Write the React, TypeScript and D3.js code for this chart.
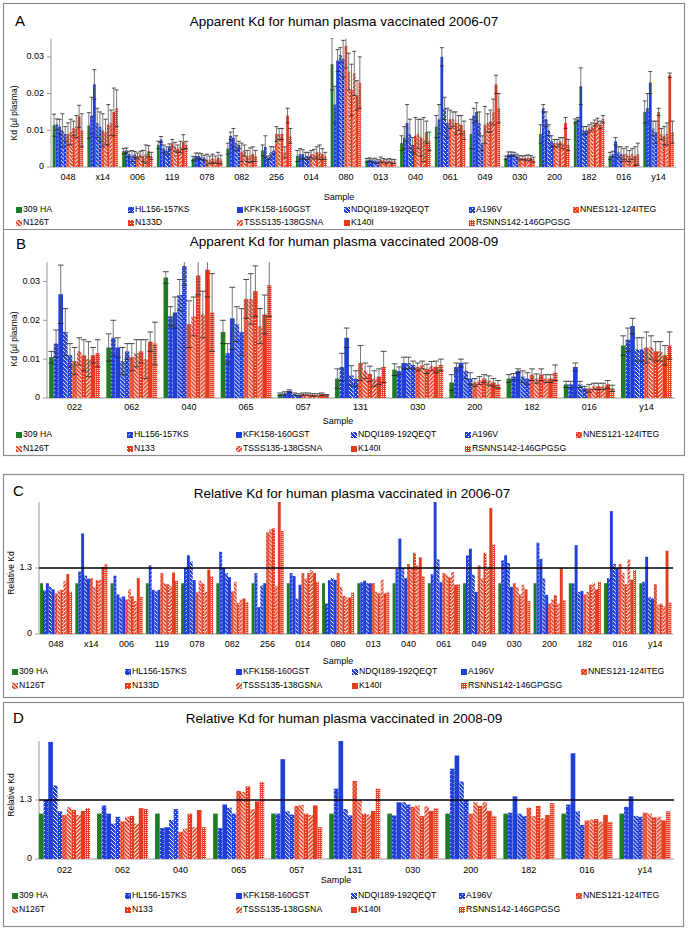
import React from "react";
import * as d3 from "d3";

const series0607 = ["309 HA","HL156-157KS","KFK158-160GST","NDQI189-192QEQT","A196V","NNES121-124ITEG","N126T","N133D","TSSS135-138GSNA","K140I","RSNNS142-146GPGSG"];
const series0809 = ["309 HA","HL156-157KS","KFK158-160GST","NDQI189-192QEQT","A196V","NNES121-124ITEG","N126T","N133","TSSS135-138GSNA","K140I","RSNNS142-146GPGSG"];

const samples0607 = ["048","x14","006","119","078","082","256","014","080","013","040","061","049","030","200","182","016","y14"];
const samples0809 = ["022","062","040","065","057","131","030","200","182","016","y14"];

const kdA = [
[0.0114,0.0116,0.0110,0.0100,0.0090,0.0090,0.0095,0.0105,0.0110,0.0138,0.0100],
[0.0113,0.0140,0.0225,0.0120,0.0110,0.0100,0.0095,0.0115,0.0120,0.0150,0.0160],
[0.0043,0.0045,0.0035,0.0030,0.0034,0.0030,0.0035,0.0030,0.0035,0.0043,0.0030],
[0.0060,0.0075,0.0050,0.0045,0.0055,0.0065,0.0055,0.0050,0.0055,0.0068,0.0060],
[0.0023,0.0030,0.0030,0.0028,0.0025,0.0020,0.0020,0.0023,0.0020,0.0025,0.0020],
[0.0050,0.0085,0.0080,0.0065,0.0060,0.0040,0.0045,0.0030,0.0032,0.0035,0.0030],
[0.0045,0.0055,0.0025,0.0040,0.0045,0.0090,0.0090,0.0090,0.0040,0.0140,0.0085],
[0.0030,0.0035,0.0035,0.0030,0.0030,0.0035,0.0035,0.0040,0.0040,0.0035,0.0030],
[0.0280,0.0170,0.0290,0.0305,0.0295,0.0330,0.0260,0.0210,0.0255,0.0195,0.0230],
[0.0018,0.0020,0.0018,0.0018,0.0015,0.0020,0.0018,0.0015,0.0018,0.0015,0.0015],
[0.0065,0.0080,0.0120,0.0090,0.0060,0.0085,0.0090,0.0080,0.0075,0.0095,0.0070],
[0.0110,0.0130,0.0300,0.0160,0.0120,0.0130,0.0130,0.0120,0.0120,0.0115,0.0100],
[0.0090,0.0140,0.0150,0.0120,0.0065,0.0115,0.0120,0.0125,0.0150,0.0225,0.0160],
[0.0025,0.0035,0.0035,0.0035,0.0030,0.0025,0.0025,0.0025,0.0025,0.0025,0.0020],
[0.0090,0.0160,0.0130,0.0100,0.0070,0.0065,0.0065,0.0070,0.0065,0.0120,0.0060],
[0.0125,0.0130,0.0220,0.0100,0.0100,0.0105,0.0110,0.0120,0.0125,0.0115,0.0130],
[0.0030,0.0035,0.0070,0.0040,0.0035,0.0035,0.0035,0.0030,0.0035,0.0030,0.0035],
[0.0150,0.0160,0.0230,0.0105,0.0095,0.0150,0.0090,0.0085,0.0090,0.0250,0.0095],
];

const errA = [
[0.0030,0.0015,0.0020,0.0045,0.0020,0.0030,0.0035,0.0020,0.0030,0.0030,0.0045],
[0.0035,0.0050,0.0040,0.0040,0.0040,0.0045,0.0035,0.0055,0.0035,0.0065,0.0050],
[0.0007,0.0007,0.0008,0.0015,0.0008,0.0008,0.0008,0.0015,0.0025,0.0015,0.0010],
[0.0010,0.0008,0.0010,0.0010,0.0008,0.0010,0.0012,0.0010,0.0015,0.0020,0.0010],
[0.0006,0.0008,0.0008,0.0008,0.0007,0.0015,0.0010,0.0012,0.0010,0.0015,0.0012],
[0.0015,0.0010,0.0025,0.0020,0.0010,0.0025,0.0015,0.0015,0.0020,0.0020,0.0015],
[0.0015,0.0030,0.0005,0.0015,0.0010,0.0020,0.0015,0.0015,0.0015,0.0020,0.0020],
[0.0015,0.0015,0.0012,0.0010,0.0010,0.0010,0.0013,0.0015,0.0020,0.0015,0.0010],
[0.0070,0.0050,0.0030,0.0020,0.0050,0.0060,0.0050,0.0070,0.0060,0.0040,0.0070],
[0.0005,0.0005,0.0004,0.0006,0.0005,0.0007,0.0005,0.0005,0.0005,0.0006,0.0005],
[0.0020,0.0030,0.0050,0.0040,0.0020,0.0050,0.0040,0.0050,0.0060,0.0030,0.0025],
[0.0030,0.0040,0.0025,0.0030,0.0040,0.0025,0.0020,0.0030,0.0020,0.0025,0.0025],
[0.0040,0.0020,0.0025,0.0030,0.0020,0.0050,0.0025,0.0030,0.0035,0.0025,0.0040],
[0.0005,0.0006,0.0006,0.0005,0.0005,0.0006,0.0005,0.0006,0.0008,0.0006,0.0007],
[0.0025,0.0010,0.0020,0.0015,0.0015,0.0010,0.0010,0.0010,0.0015,0.0015,0.0015],
[0.0006,0.0005,0.0050,0.0010,0.0010,0.0010,0.0010,0.0008,0.0008,0.0010,0.0010],
[0.0010,0.0008,0.0010,0.0015,0.0020,0.0015,0.0020,0.0015,0.0015,0.0025,0.0030],
[0.0030,0.0040,0.0030,0.0020,0.0030,0.0010,0.0015,0.0025,0.0030,0.0006,0.0030],
];

const kdB = [
[0.0105,0.0140,0.0267,0.0170,0.0110,0.0095,0.0120,0.0110,0.0100,0.0110,0.0115],
[0.0130,0.0155,0.0130,0.0095,0.0120,0.0105,0.0115,0.0120,0.0100,0.0145,0.0140],
[0.0310,0.0210,0.0220,0.0265,0.0340,0.0190,0.0210,0.0315,0.0215,0.0330,0.0220],
[0.0170,0.0115,0.0205,0.0190,0.0170,0.0255,0.0255,0.0275,0.0185,0.0215,0.0290],
[0.0010,0.0012,0.0018,0.0010,0.0008,0.0010,0.0010,0.0008,0.0008,0.0010,0.0007],
[0.0050,0.0080,0.0155,0.0058,0.0050,0.0090,0.0070,0.0062,0.0050,0.0055,0.0080],
[0.0073,0.0070,0.0090,0.0090,0.0085,0.0080,0.0085,0.0075,0.0082,0.0080,0.0085],
[0.0040,0.0080,0.0090,0.0070,0.0050,0.0040,0.0045,0.0050,0.0045,0.0040,0.0035],
[0.0050,0.0055,0.0070,0.0055,0.0050,0.0060,0.0050,0.0060,0.0050,0.0050,0.0065],
[0.0035,0.0035,0.0080,0.0035,0.0025,0.0025,0.0030,0.0030,0.0030,0.0035,0.0025],
[0.0135,0.0150,0.0185,0.0125,0.0125,0.0130,0.0130,0.0120,0.0120,0.0110,0.0135],
];

const errB = [
[0.0015,0.0035,0.0075,0.0060,0.0030,0.0035,0.0035,0.0040,0.0045,0.0020,0.0035],
[0.0035,0.0045,0.0025,0.0035,0.0020,0.0035,0.0035,0.0030,0.0050,0.0025,0.0055],
[0.0015,0.0025,0.0040,0.0040,0.0050,0.0060,0.0050,0.0050,0.0060,0.0070,0.0100],
[0.0030,0.0025,0.0080,0.0045,0.0060,0.0050,0.0065,0.0065,0.0045,0.0050,0.0080],
[0.0003,0.0004,0.0003,0.0003,0.0003,0.0003,0.0003,0.0003,0.0003,0.0003,0.0002],
[0.0025,0.0035,0.0025,0.0025,0.0020,0.0045,0.0020,0.0020,0.0020,0.0020,0.0040],
[0.0015,0.0010,0.0015,0.0015,0.0010,0.0010,0.0010,0.0012,0.0012,0.0015,0.0015],
[0.0020,0.0010,0.0010,0.0020,0.0015,0.0010,0.0010,0.0010,0.0012,0.0010,0.0010],
[0.0010,0.0008,0.0005,0.0015,0.0015,0.0015,0.0012,0.0015,0.0010,0.0010,0.0020],
[0.0008,0.0008,0.0010,0.0008,0.0005,0.0010,0.0008,0.0008,0.0008,0.0010,0.0008],
[0.0025,0.0030,0.0020,0.0030,0.0030,0.0040,0.0030,0.0025,0.0025,0.0025,0.0035],
];

const relC = [
[1.0,0.86,1.0,0.93,0.88,0.8,0.86,0.87,1.04,1.18,0.83],
[1.0,1.23,1.98,1.15,1.09,1.1,0.93,1.06,1.07,1.32,1.38],
[1.0,1.15,0.78,0.72,0.74,0.68,0.88,0.74,0.65,1.1,0.73],
[1.0,1.35,0.87,0.84,0.87,1.2,1.0,0.98,0.95,1.21,1.05],
[1.0,1.3,1.55,1.43,1.06,0.82,1.05,1.0,0.83,1.27,1.13],
[1.0,1.62,1.3,1.2,1.12,0.84,1.03,0.61,0.68,0.7,0.63],
[1.0,1.2,0.53,0.96,1.0,2.0,2.06,2.08,0.95,2.6,2.03],
[1.0,1.2,1.14,0.7,0.97,1.2,1.1,1.2,1.26,1.2,1.03],
[1.0,0.6,1.06,1.1,1.07,1.2,0.93,0.75,0.72,0.72,0.82],
[1.0,1.02,1.05,1.0,1.0,1.0,0.83,0.8,1.07,0.8,0.83],
[1.0,1.28,1.88,1.3,1.1,1.38,1.32,1.6,1.35,1.51,1.14],
[1.0,1.18,2.6,1.47,1.02,1.2,1.17,1.12,1.22,0.97,0.98],
[1.0,1.55,1.68,1.17,0.83,1.35,1.1,1.6,1.32,2.48,1.76],
[1.0,1.45,1.55,1.4,0.93,1.0,0.92,0.78,0.97,0.88,0.65],
[1.0,1.8,1.48,1.1,0.77,0.6,0.68,0.77,0.6,1.3,0.67],
[1.0,1.0,1.75,0.83,0.85,0.78,0.83,0.97,1.0,0.88,1.03],
[1.0,1.1,2.42,1.38,1.3,1.38,1.2,0.98,1.47,1.07,1.26],
[1.0,1.03,1.52,0.73,0.7,0.98,0.58,0.6,0.55,1.64,0.62],
];

const relD = [
[1.0,1.3,2.58,1.62,1.05,0.97,1.14,1.08,0.97,1.06,1.12],
[1.0,1.18,1.0,0.78,0.93,0.83,0.93,0.95,0.78,1.12,1.1],
[1.0,0.68,0.7,0.86,1.1,0.6,0.67,1.0,0.7,1.08,0.7],
[1.0,0.68,1.2,1.13,1.0,1.5,1.48,1.6,1.1,1.27,1.7],
[1.0,1.0,2.2,1.05,0.98,1.17,1.19,1.0,0.97,1.18,0.7],
[1.0,1.55,2.62,1.1,0.96,1.72,1.3,1.0,0.98,1.06,1.55],
[1.0,0.96,1.25,1.25,1.2,1.15,1.18,0.95,1.16,1.06,1.12],
[1.0,1.99,2.28,1.71,1.3,1.0,1.25,1.17,1.25,1.06,0.95],
[1.0,1.02,1.38,1.0,0.95,1.13,0.95,1.17,0.9,0.97,1.23],
[1.0,1.2,2.33,1.05,0.75,0.85,0.87,0.88,0.82,0.97,0.82],
[1.0,1.15,1.38,0.95,0.93,1.02,1.0,0.92,0.93,0.85,1.05],
];

const ticksKd = [0, 0.01, 0.02, 0.03];
const ticksRel = [0, 1.3];

const GREEN = "#1e7d24";
const BLUE = "#1f3fd8";
const RED = "#e53b1f";
const FONT = "'Liberation Sans', Arial, sans-serif";

const fillsPatterned = [GREEN, "url(#pHL)", BLUE, "url(#pNDQI)", "url(#pA196)", "url(#pNNES)", "url(#pN126)", "url(#pN133)", "url(#pTSSS)", RED, "url(#pRSN)"];
const fillsC = [GREEN, "url(#pHL)", BLUE, "url(#pNDQI)", BLUE, "url(#pNNES)", "url(#pN126)", "url(#pN133)", "url(#pTSSS)", RED, "url(#pRSN)"];

function Patterns() {
  return (
    <defs>
      <pattern id="pHL" patternUnits="userSpaceOnUse" width="4" height="4">
        <rect width="4" height="4" fill={BLUE} />
        <path d="M0.5,3.5 L2,2" stroke="#fff" strokeWidth="0.9" />
      </pattern>
      <pattern id="pNDQI" patternUnits="userSpaceOnUse" width="4" height="4">
        <rect width="4" height="4" fill={BLUE} />
        <path d="M-1,-1 L5,5 M3,-1 L5,1 M-1,3 L1,5" stroke="#fff" strokeWidth="1" />
      </pattern>
      <pattern id="pA196" patternUnits="userSpaceOnUse" width="4" height="4">
        <rect width="4" height="4" fill={BLUE} />
        <rect x="0" y="0" width="1" height="1" fill="#fff" />
        <rect x="2" y="2" width="1" height="1" fill="#fff" />
      </pattern>
      <pattern id="pNNES" patternUnits="userSpaceOnUse" width="4" height="4">
        <rect width="4" height="4" fill={RED} />
        <path d="M0.5,1 L2,1 M2.5,3 L4,3" stroke="#fff" strokeWidth="0.8" />
      </pattern>
      <pattern id="pN126" patternUnits="userSpaceOnUse" width="4" height="4">
        <rect width="4" height="4" fill={RED} />
        <path d="M-1,-1 L5,5 M3,-1 L5,1 M-1,3 L1,5" stroke="#fff" strokeWidth="1.1" />
      </pattern>
      <pattern id="pN133" patternUnits="userSpaceOnUse" width="3" height="3">
        <rect width="3" height="3" fill={RED} />
        <rect x="1" y="1" width="1" height="1" fill="#fff" />
      </pattern>
      <pattern id="pTSSS" patternUnits="userSpaceOnUse" width="4" height="4">
        <rect width="4" height="4" fill={RED} />
        <path d="M-1,5 L5,-1 M-1,1 L1,-1 M3,5 L5,3" stroke="#fff" strokeWidth="1.1" />
      </pattern>
      <pattern id="pRSN" patternUnits="userSpaceOnUse" width="2" height="2">
        <rect width="2" height="2" fill={RED} />
        <rect x="0" y="0" width="1" height="1" fill="#fff" />
      </pattern>
    </defs>
  );
}

type PanelCfg = {
  id: string;
  letter: string;
  letterPos: [number, number];
  title: string;
  titleX: number;
  titleY: number;
  samples: string[];
  series: string[];
  values: number[][];
  errors?: number[][];
  fills: string[];
  xRange: [number, number];
  pad: number;
  axisX: number;
  yBase: number;
  yTop: number;
  yMax: number;
  ticks: number[];
  tickFmt: (d: number) => string;
  yLabel: string;
  yLabelPos: [number, number];
  xLabelY: number;
  samplePos: [number, number];
  legendY: [number, number];
  legendX: number[];
  refLine?: number;
};

function Panel({ c }: { c: PanelCfg }) {
  const xg = d3.scaleBand<string>().domain(c.samples).range(c.xRange).paddingInner(c.pad).paddingOuter(c.pad / 2);
  const xs = d3.scaleBand<number>().domain(d3.range(c.series.length)).range([0, xg.bandwidth()]);
  const y = d3.scaleLinear().domain([0, c.yMax]).range([c.yBase, c.yTop]);
  const bw = xs.bandwidth();
  const right = c.xRange[1];
  const clip = `clip-${c.id}`;
  return (
    <g fontFamily={FONT}>
      <clipPath id={clip}>
        <rect x={c.axisX} y={c.yTop} width={right - c.axisX + 2} height={c.yBase - c.yTop} />
      </clipPath>
      <text x={c.letterPos[0]} y={c.letterPos[1]} fontSize={15} dominantBaseline="middle">{c.letter}</text>
      <text x={c.titleX} y={c.titleY} fontSize={13.5} textAnchor="middle" dominantBaseline="middle">{c.title}</text>
      <line x1={c.axisX} x2={c.axisX} y1={c.yTop} y2={c.yBase} stroke="#9a9a9a" strokeWidth={1} />
      <line x1={c.axisX} x2={right} y1={c.yBase} y2={c.yBase} stroke="#9a9a9a" strokeWidth={1} />
      {c.ticks.map((t) => (
        <g key={t}>
          <line x1={c.axisX - 4} x2={c.axisX} y1={y(t)} y2={y(t)} stroke="#9a9a9a" />
          <text x={c.axisX - 7} y={y(t)} fontSize={9} textAnchor="end" dominantBaseline="middle">{c.tickFmt(t)}</text>
        </g>
      ))}
      <text transform={`translate(${c.yLabelPos[0]},${c.yLabelPos[1]}) rotate(-90)`} fontSize={8.5} textAnchor="middle" dominantBaseline="middle">{c.yLabel}</text>
      <g clipPath={`url(#${clip})`}>
        {c.samples.map((s, gi) => (
          <g key={s} transform={`translate(${xg(s)},0)`}>
            {c.values[gi].map((v, si) => (
              <rect key={si} x={xs(si)} y={y(v)} width={bw} height={c.yBase - y(v)} fill={c.fills[si]} />
            ))}
            {c.errors && c.values[gi].map((v, si) => {
              const e = c.errors![gi][si];
              const cx = (xs(si) as number) + bw / 2;
              const hw = Math.max(1.8, bw / 2 + 0.6);
              return (
                <g key={"e" + si} stroke="#222" strokeWidth={0.8}>
                  <line x1={cx} x2={cx} y1={y(v - e)} y2={y(v + e)} stroke="#555" />
                  <line x1={cx - hw} x2={cx + hw} y1={y(v + e)} y2={y(v + e)} />
                  <line x1={cx - hw} x2={cx + hw} y1={y(v - e)} y2={y(v - e)} />
                </g>
              );
            })}
          </g>
        ))}
      </g>
      {c.refLine !== undefined && (
        <line x1={c.axisX} x2={right} y1={y(c.refLine)} y2={y(c.refLine)} stroke="#000" strokeWidth={1.6} />
      )}
      {c.samples.map((s) => (
        <text key={s} x={(xg(s) as number) + xg.bandwidth() / 2} y={c.xLabelY} fontSize={9} textAnchor="middle" dominantBaseline="middle">{s}</text>
      ))}
      <text x={c.samplePos[0]} y={c.samplePos[1]} fontSize={9} textAnchor="middle" dominantBaseline="middle">Sample</text>
      {c.series.map((name, si) => {
        const row = si < 6 ? 0 : 1;
        const col = si < 6 ? si : si - 6;
        const lx = c.legendX[col];
        const ly = c.legendY[row];
        return (
          <g key={name}>
            <rect x={lx} y={ly - 3} width={6} height={6} fill={c.fills[si]} />
            <text x={lx + 7} y={ly} fontSize={8.7} dominantBaseline="middle">{name}</text>
          </g>
        );
      })}
    </g>
  );
}

const fmtKd = (d: number) => (d === 0 ? "0" : d3.format(".2f")(d));
const fmtRel = (d: number) => (d === 0 ? "0" : String(d));

export default function App() {
  const panels: PanelCfg[] = [
    {
      id: "A", letter: "A", letterPos: [15, 22], title: "Apparent Kd for human plasma vaccinated 2006-07", titleX: 344, titleY: 22,
      samples: samples0607, series: series0607, values: kdA, errors: errA, fills: fillsPatterned,
      xRange: [50.6, 676], pad: 0.12, axisX: 51, yBase: 167, yTop: 38.5, yMax: 0.035, ticks: ticksKd, tickFmt: fmtKd,
      yLabel: "Kd (µl plasma)", yLabelPos: [15, 113], xLabelY: 178, samplePos: [339, 198], legendY: [210, 223],
      legendX: [16, 128, 237, 344, 469, 573],
    },
    {
      id: "B", letter: "B", letterPos: [16, 245], title: "Apparent Kd for human plasma vaccinated 2008-09", titleX: 344, titleY: 242,
      samples: samples0809, series: series0809, values: kdB, errors: errB, fills: fillsPatterned,
      xRange: [46, 675], pad: 0.11, axisX: 47, yBase: 398, yTop: 262, yMax: 0.035, ticks: ticksKd, tickFmt: fmtKd,
      yLabel: "Kd (µl plasma)", yLabelPos: [15, 339], xLabelY: 408, samplePos: [338, 422], legendY: [435, 449],
      legendX: [16, 127, 236, 351, 465, 576],
    },
    {
      id: "C", letter: "C", letterPos: [13, 492], title: "Relative Kd for human plasma vaccinated in 2006-07", titleX: 352, titleY: 494,
      samples: samples0607, series: series0607, values: relC, fills: fillsC,
      xRange: [38.5, 673], pad: 0.09, axisX: 39, yBase: 634, yTop: 502, yMax: 2.6, ticks: ticksRel, tickFmt: fmtRel,
      yLabel: "Relative Kd", yLabelPos: [12, 573], xLabelY: 645, samplePos: [338, 662], legendY: [672, 686],
      legendX: [12, 125, 236, 352, 461, 581], refLine: 1.3,
    },
    {
      id: "D", letter: "D", letterPos: [13, 719], title: "Relative Kd for human plasma vaccinated in 2008-09", titleX: 344, titleY: 719,
      samples: samples0809, series: series0809, values: relD, fills: fillsPatterned,
      xRange: [35.5, 674], pad: 0.12, axisX: 39, yBase: 859, yTop: 741, yMax: 2.6, ticks: ticksRel, tickFmt: fmtRel,
      yLabel: "Relative Kd", yLabelPos: [12, 795], xLabelY: 871, samplePos: [336, 881], legendY: [896, 910],
      legendX: [12, 125, 236, 351, 459, 576], refLine: 1.3,
    },
  ];
  return (
    <svg width={689} height={930} style={{ position: "absolute", left: 0, top: 0, background: "#fff" }}>
      <Patterns />
      <rect x={0} y={0} width={689} height={930} fill="#fff" />
      <rect x={3.5} y={3.5} width={681} height={452} fill="none" stroke="#8c8c8c" strokeWidth={1.2} />
      <line x1={3.5} x2={684.5} y1={229.5} y2={229.5} stroke="#8c8c8c" strokeWidth={1.2} />
      <rect x={3.5} y={474.5} width={680} height={223} fill="none" stroke="#8c8c8c" strokeWidth={1.2} />
      <rect x={3.5} y={702.5} width={680} height={224} fill="none" stroke="#8c8c8c" strokeWidth={1.2} />
      {panels.map((p) => <Panel key={p.id} c={p} />)}
    </svg>
  );
}
